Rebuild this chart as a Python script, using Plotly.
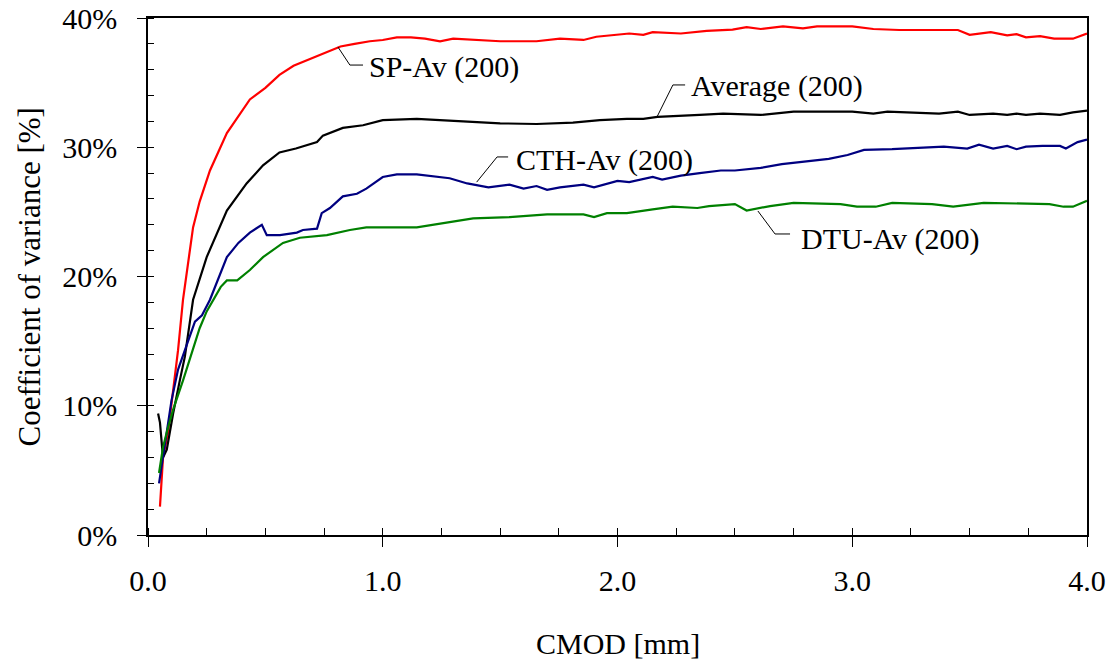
import plotly.graph_objects as go

# ---- data (CMOD [mm], coefficient of variance [%]) ----
sp_x = [0.051, 0.064, 0.085, 0.107, 0.128, 0.149, 0.192, 0.22, 0.264, 0.336, 0.434, 0.5, 0.56, 0.62, 0.7,
        0.76, 0.82, 0.88, 0.945, 1.0, 1.06, 1.12, 1.18, 1.244, 1.3, 1.5, 1.655, 1.755, 1.855, 1.91, 2.0,
        2.05, 2.11, 2.15, 2.27, 2.38, 2.49, 2.55, 2.61, 2.705, 2.79, 2.85, 3.0, 3.09, 3.2, 3.34, 3.45,
        3.5, 3.59, 3.66, 3.7, 3.74, 3.8, 3.86, 3.94, 4.0]
sp_y = [2.2, 6.0, 7.9, 11.0, 14.3, 18.2, 23.8, 25.8, 28.2, 31.1, 33.7, 34.6, 35.6, 36.3, 36.9,
        37.3, 37.8, 38.0, 38.2, 38.3, 38.5, 38.5, 38.4, 38.2, 38.4, 38.2, 38.2, 38.4, 38.3, 38.55, 38.7,
        38.8, 38.7, 38.9, 38.8, 39.0, 39.1, 39.3, 39.15, 39.35, 39.2, 39.35, 39.35, 39.15, 39.07, 39.07, 39.07,
        38.7, 38.9, 38.65, 38.75, 38.5, 38.6, 38.4, 38.4, 38.8]

avg_x = [0.043, 0.051, 0.06, 0.064, 0.08, 0.107, 0.136, 0.157, 0.192, 0.25, 0.336, 0.42, 0.49, 0.56, 0.63,
         0.72, 0.745, 0.83, 0.916, 1.0, 1.145, 1.244, 1.38, 1.5, 1.655, 1.81, 1.925, 2.04, 2.11, 2.17,
         2.35, 2.45, 2.61, 2.75, 3.0, 3.09, 3.15, 3.26, 3.37, 3.45, 3.5, 3.6, 3.66, 3.7, 3.74, 3.8,
         3.885, 3.94, 4.0]
avg_y = [9.4, 8.7, 6.8, 6.0, 6.6, 9.4, 12.0, 13.8, 18.2, 21.5, 25.1, 27.2, 28.6, 29.6, 29.9,
         30.4, 30.9, 31.5, 31.7, 32.1, 32.2, 32.1, 32.0, 31.85, 31.8, 31.9, 32.1, 32.2, 32.2, 32.35,
         32.5, 32.6, 32.5, 32.75, 32.75, 32.6, 32.75, 32.7, 32.6, 32.75, 32.5, 32.6, 32.5, 32.6, 32.5, 32.6,
         32.5, 32.7, 32.83]

cth_x = [0.047, 0.064, 0.08, 0.1, 0.128, 0.157, 0.2, 0.23, 0.264, 0.336, 0.385, 0.434, 0.485, 0.506, 0.562,
         0.634, 0.66, 0.72, 0.74, 0.775, 0.83, 0.89, 0.93, 1.0, 1.06, 1.145, 1.244, 1.285, 1.36, 1.45,
         1.54, 1.6, 1.655, 1.7, 1.755, 1.855, 1.9, 2.0, 2.05, 2.15, 2.19, 2.27, 2.35, 2.44, 2.5, 2.61,
         2.7, 2.8, 2.9, 2.98, 3.05, 3.17, 3.29, 3.39, 3.49, 3.54, 3.6, 3.66, 3.7, 3.74, 3.81, 3.885,
         3.91, 3.96, 4.0]
cth_y = [4.0, 6.0, 7.9, 10.4, 12.8, 14.3, 16.5, 17.0, 18.2, 21.5, 22.6, 23.4, 24.0, 23.2, 23.2,
         23.4, 23.6, 23.7, 24.9, 25.3, 26.2, 26.4, 26.8, 27.7, 27.9, 27.9, 27.7, 27.6, 27.2, 26.9,
         27.1, 26.8, 27.0, 26.7, 26.9, 27.1, 26.9, 27.4, 27.3, 27.7, 27.5, 27.8, 28.0, 28.2, 28.2, 28.4,
         28.7, 28.9, 29.1, 29.4, 29.8, 29.85, 29.97, 30.05, 29.9, 30.2, 29.9, 30.1, 29.85, 30.05, 30.1, 30.1,
         29.9, 30.4, 30.6]

dtu_x = [0.047, 0.064, 0.085, 0.107, 0.15, 0.19, 0.22, 0.25, 0.277, 0.31, 0.336, 0.38, 0.434, 0.49, 0.575,
         0.647, 0.762, 0.86, 0.93, 1.145, 1.285, 1.385, 1.54, 1.7, 1.855, 1.9, 1.955, 2.04, 2.15, 2.235,
         2.34, 2.39, 2.5, 2.55, 2.65, 2.75, 2.95, 3.02, 3.1, 3.17, 3.34, 3.43, 3.56, 3.84, 3.9, 3.94, 4.0]
dtu_y = [4.8, 6.8, 8.3, 9.7, 12.0, 14.3, 16.0, 17.3, 18.2, 19.2, 19.7, 19.7, 20.5, 21.5, 22.6,
         23.0, 23.2, 23.6, 23.8, 23.8, 24.2, 24.5, 24.6, 24.8, 24.8, 24.6, 24.9, 24.9, 25.2, 25.4,
         25.3, 25.45, 25.6, 25.1, 25.45, 25.7, 25.6, 25.4, 25.4, 25.7, 25.6, 25.4, 25.7, 25.6, 25.4, 25.4, 25.85]

series_names = ["SP-Av (200)", "Average (200)", "CTH-Av (200)", "DTU-Av (200)"]
series_colors = ["#FF0000", "#000000", "#000080", "#008000"]

# leader lines (curve point -> elbow -> end) and label anchors
leader_x = [[0.809, 0.860, 0.916], [2.168, 2.236, 2.288], [1.40, 1.487, 1.534], [2.598, 2.671, 2.735]]
leader_y = [[37.76, 36.36, 36.36], [32.34, 34.82, 34.82], [27.3, 29.25, 29.25], [25.07, 23.29, 23.29]]
label_x = [0.935, 2.305, 1.56, 2.775]
label_y = [36.2, 34.75, 29.0, 22.9]

xtick_vals = [0, 1, 2, 3, 4]
xtick_text = ["0.0", "1.0", "2.0", "3.0", "4.0"]
ytick_vals = [0, 10, 20, 30, 40]
ytick_text = ["0%", "10%", "20%", "30%", "40%"]
x_title = "CMOD [mm]"
y_title = "Coefficient of variance [%]"
x_range = [0, 4]
y_range = [0, 40]

FONT = "Liberation Serif"

fig = go.Figure()
for xs, ys, name, col in zip([sp_x, avg_x, cth_x, dtu_x], [sp_y, avg_y, cth_y, dtu_y],
                             series_names, series_colors):
    fig.add_trace(go.Scatter(x=xs, y=ys, mode="lines", name=name,
                             line=dict(color=col, width=2.2), showlegend=False))

for lx, ly, tx, ty, name in zip(leader_x, leader_y, label_x, label_y, series_names):
    fig.add_trace(go.Scatter(x=lx, y=ly, mode="lines", line=dict(color="black", width=1),
                             showlegend=False, hoverinfo="skip"))
    fig.add_annotation(x=tx, y=ty, text=name, showarrow=False, xanchor="left", yanchor="middle",
                       font=dict(family=FONT, size=30, color="black"))

# empty trace on overlay axes (used only for the inner half of the crossing major ticks)
fig.add_trace(go.Scatter(x=[None], y=[None], xaxis="x2", yaxis="y2", mode="lines",
                         showlegend=False, hoverinfo="skip"))

# axis titles
fig.add_annotation(x=0.5, y=-0.209, xref="paper", yref="paper", text=x_title, showarrow=False,
                   xanchor="center", yanchor="middle", font=dict(family=FONT, size=30, color="black"))
fig.add_annotation(x=-0.1257, y=0.5, xref="paper", yref="paper", text=y_title, showarrow=False,
                   textangle=-90, xanchor="center", yanchor="middle",
                   font=dict(family=FONT, size=31, color="black"))

fig.update_layout(
    width=1116, height=664,
    margin=dict(l=148, r=29, t=18, b=129),
    paper_bgcolor="white", plot_bgcolor="white",
    font=dict(family=FONT, size=30, color="black"),
    xaxis=dict(
        range=x_range, tickvals=xtick_vals, ticktext=xtick_text, automargin=False,
        ticks="outside", ticklen=10, tickwidth=1, tickcolor="black", ticklabelstandoff=8,
        minor=dict(dtick=0.25, ticks="inside", ticklen=7, tickcolor="black", tickwidth=1, showgrid=False),
        showline=True, linecolor="black", linewidth=1.5, mirror=True, showgrid=False, zeroline=False,
        tickfont=dict(family=FONT, size=30),
    ),
    yaxis=dict(
        range=y_range, tickvals=ytick_vals, ticktext=ytick_text, automargin=False,
        ticks="outside", ticklen=9, tickwidth=1, tickcolor="black", ticklabelstandoff=14,
        minor=dict(dtick=2, ticks="inside", ticklen=6, tickcolor="black", tickwidth=1, showgrid=False),
        showline=True, linecolor="black", linewidth=1.5, mirror=True, showgrid=False, zeroline=False,
        tickfont=dict(family=FONT, size=30),
    ),
    xaxis2=dict(overlaying="x", anchor="y2", side="bottom", range=x_range, tickvals=xtick_vals,
                ticks="inside", ticklen=7, tickwidth=1, tickcolor="black", showticklabels=False,
                showline=False, showgrid=False, zeroline=False, automargin=False),
    yaxis2=dict(overlaying="y", anchor="x2", side="left", range=y_range, tickvals=ytick_vals,
                ticks="inside", ticklen=6, tickwidth=1, tickcolor="black", showticklabels=False,
                showline=False, showgrid=False, zeroline=False, automargin=False),
)

fig.write_html("out.html")
